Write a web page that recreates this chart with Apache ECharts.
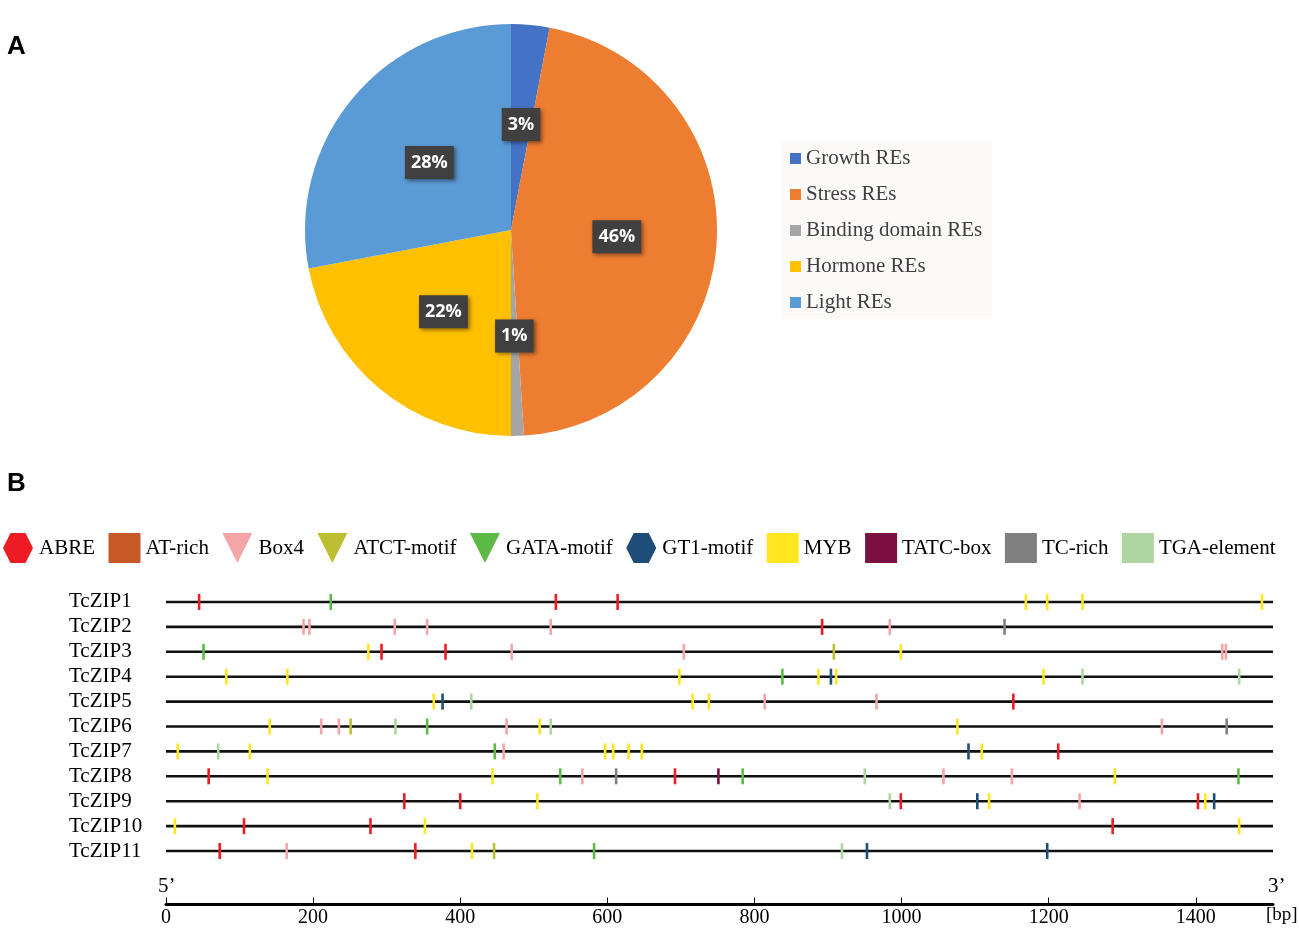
<!DOCTYPE html>
<html>
<head>
<meta charset="utf-8">
<script src="https://cdn.jsdelivr.net/npm/echarts@6/dist/echarts.min.js"></script>
<style>
    html, body { margin: 0; background: #fff; }
    #main { width: 1299px; height: 928px; }
</style>
</head>
<body>
<div id="main"></div>
<script>
// panel A: share of responsive elements
const reNames  = ['Growth REs', 'Stress REs', 'Binding domain REs', 'Hormone REs', 'Light REs'];
const reValues = [3, 46, 1, 22, 28];
const reColors = ['#4472C4', '#ED7D31', '#A5A5A5', '#FFC000', '#5B9BD5'];

// panel B: motif positions (bp) on each promoter
const genes = ['TcZIP1', 'TcZIP2', 'TcZIP3', 'TcZIP4', 'TcZIP5', 'TcZIP6',
               'TcZIP7', 'TcZIP8', 'TcZIP9', 'TcZIP10', 'TcZIP11'];
const seqLength = 1505;
const bpTicks = [0, 200, 400, 600, 800, 1000, 1200, 1400];

const motifNames  = ['ABRE', 'AT-rich', 'Box4', 'ATCT-motif', 'GATA-motif',
                     'GT1-motif', 'MYB', 'TATC-box', 'TC-rich', 'TGA-element'];
const motifColors = ['#ED1C24', '#C55A28', '#F4A5A8', '#BDBE32', '#5EBA47',
                     '#1E4D78', '#FFE61E', '#7B1142', '#808080', '#AED6A0'];

const abre = [
    ['TcZIP1', 45], ['TcZIP1', 530], ['TcZIP1', 614], ['TcZIP2', 892],
    ['TcZIP3', 293], ['TcZIP3', 380], ['TcZIP5', 1152], ['TcZIP7', 1213],
    ['TcZIP8', 58], ['TcZIP8', 692], ['TcZIP9', 324], ['TcZIP9', 400],
    ['TcZIP9', 999], ['TcZIP9', 1403], ['TcZIP10', 106], ['TcZIP10', 278],
    ['TcZIP10', 1287], ['TcZIP11', 73], ['TcZIP11', 339]
];
const atRich = [];
const box4 = [
    ['TcZIP2', 187], ['TcZIP2', 195], ['TcZIP2', 311], ['TcZIP2', 355],
    ['TcZIP2', 523], ['TcZIP2', 984], ['TcZIP3', 470], ['TcZIP3', 704],
    ['TcZIP3', 1436], ['TcZIP3', 1441], ['TcZIP5', 814], ['TcZIP5', 966],
    ['TcZIP6', 211], ['TcZIP6', 235], ['TcZIP6', 463], ['TcZIP6', 1354],
    ['TcZIP7', 459], ['TcZIP8', 566], ['TcZIP8', 1057], ['TcZIP8', 1150],
    ['TcZIP9', 1242], ['TcZIP11', 164]
];
const atct = [['TcZIP3', 908], ['TcZIP6', 251], ['TcZIP11', 446]];
const gata = [
    ['TcZIP1', 224], ['TcZIP3', 51], ['TcZIP4', 838], ['TcZIP6', 355],
    ['TcZIP7', 447], ['TcZIP8', 536], ['TcZIP8', 784], ['TcZIP8', 1458],
    ['TcZIP11', 582]
];
const gt1 = [
    ['TcZIP4', 904], ['TcZIP5', 376], ['TcZIP7', 1091], ['TcZIP9', 1103],
    ['TcZIP9', 1425], ['TcZIP11', 953], ['TcZIP11', 1198]
];
const myb = [
    ['TcZIP1', 1169], ['TcZIP1', 1198], ['TcZIP1', 1246], ['TcZIP1', 1490],
    ['TcZIP3', 275], ['TcZIP3', 999],
    ['TcZIP4', 82], ['TcZIP4', 165], ['TcZIP4', 698], ['TcZIP4', 887],
    ['TcZIP4', 911], ['TcZIP4', 1193],
    ['TcZIP5', 364], ['TcZIP5', 716], ['TcZIP5', 738],
    ['TcZIP6', 141], ['TcZIP6', 508], ['TcZIP6', 1076],
    ['TcZIP7', 16], ['TcZIP7', 114], ['TcZIP7', 597], ['TcZIP7', 608],
    ['TcZIP7', 629], ['TcZIP7', 647], ['TcZIP7', 1109],
    ['TcZIP8', 138], ['TcZIP8', 444], ['TcZIP8', 1290],
    ['TcZIP9', 505], ['TcZIP9', 1119], ['TcZIP9', 1413],
    ['TcZIP10', 12], ['TcZIP10', 352], ['TcZIP10', 1459],
    ['TcZIP11', 416]
];
const tatc = [['TcZIP8', 751]];
const tcRich = [['TcZIP2', 1140], ['TcZIP6', 1442], ['TcZIP8', 612]];
const tga = [
    ['TcZIP4', 1246], ['TcZIP4', 1459], ['TcZIP5', 415], ['TcZIP6', 312],
    ['TcZIP6', 523], ['TcZIP7', 71], ['TcZIP8', 950], ['TcZIP9', 984],
    ['TcZIP11', 919]
];
const motifSites = [abre, atRich, box4, atct, gata, gt1, myb, tatc, tcRich, tga];

const hexagon  = 'path://M0,50 L25,0 L75,0 L100,50 L75,100 L25,100 Z';
const triangle = 'path://M0,0 L100,0 L50,100 Z';
const motifIcons = [hexagon, 'rect', triangle, triangle, triangle,
                    hexagon, 'rect', 'rect', 'rect', 'rect'];

const serif = '"Liberation Serif", "Times New Roman", serif';

const chart = echarts.init(document.getElementById('main'));

const renderBackbone = function(params, api) {
    let a = api.coord([0, api.value(1)]);
    let b = api.coord([api.value(0), api.value(1)]);
    return {
        type: 'line',
        shape: { x1: a[0], y1: a[1], x2: b[0], y2: b[1] },
        style: { stroke: '#111', lineWidth: 2.6 }
    };
};

const renderSite = function(params, api) {
    let p = api.coord([api.value(0), api.value(1)]);
    return {
        type: 'rect',
        shape: { x: p[0] - 1.3, y: p[1] - 8, width: 2.6, height: 16 },
        style: { fill: api.visual('color') }
    };
};

let series = [];
series.push({
    type: 'pie',
    center: [511, 230],
    radius: 206,
    startAngle: 90,
    silent: true,
    data: reNames.map((n, i) => ({ name: n, value: reValues[i], itemStyle: { color: reColors[i] } })),
    label: {
        position: 'inside',
        formatter: (p) => p.value + '%',
        color: '#fff',
        fontSize: 18,
        fontWeight: 'bold',
        fontFamily: '"Open Sans", sans-serif',
        backgroundColor: '#404040',
        padding: [8, 6, 5, 6],
        lineHeight: 20,
        shadowColor: 'rgba(0,0,0,0.45)',
        shadowBlur: 4,
        shadowOffsetX: 2,
        shadowOffsetY: 2
    },
    labelLine: { show: false }
});

series.push({
    name: 'backbone',
    type: 'custom',
    renderItem: renderBackbone,
    silent: true,
    data: genes.map((g, i) => [seqLength, i]),
    z: 1
});

motifNames.forEach((name, k) => {
    series.push({
        name: name,
        type: 'custom',
        renderItem: renderSite,
        silent: true,
        itemStyle: { color: motifColors[k] },
        data: motifSites[k].map((s) => [s[1], genes.indexOf(s[0])]),
        z: 2
    });
});

chart.setOption({
    animation: false,
    grid: { left: 166, right: 26, top: 589.5, height: 274 },
    xAxis: {
        type: 'value',
        min: 0,
        max: seqLength,
        interval: 200,
        offset: 41,
        splitLine: { show: false },
        axisLine: { show: true, lineStyle: { color: '#000', width: 3 } },
        axisTick: { show: true, inside: true, length: 7, lineStyle: { color: '#000', width: 1 } },
        axisLabel: {
            color: '#000', fontSize: 20, fontFamily: serif, margin: 3,
            showMaxLabel: false,
            formatter: (v) => bpTicks.indexOf(v) >= 0 ? String(v) : ''
        }
    },
    yAxis: {
        type: 'category',
        inverse: true,
        data: genes,
        axisLine: { show: false },
        axisTick: { show: false },
        splitLine: { show: false },
        axisLabel: { interval: 0, color: '#000', fontSize: 21, fontFamily: serif, align: 'left', margin: 97 }
    },
    legend: [{
        data: reNames,
        orient: 'vertical',
        left: 781,
        top: 140,
        icon: 'rect',
        itemWidth: 11,
        itemHeight: 11,
        itemGap: 15,
        padding: [8, 10, 6, 9],
        backgroundColor: '#FCF9F9',
        selectedMode: false,
        textStyle: { color: '#404040', fontSize: 21, fontFamily: serif }
    }, {
        data: motifNames.map((n, i) => ({ name: n, icon: motifIcons[i] })),
        left: 3,
        top: 533,
        itemWidth: 32,
        itemHeight: 30,
        itemGap: 13.5,
        padding: 0,
        selectedMode: false,
        textStyle: { color: '#000', fontSize: 21, fontFamily: serif }
    }],
    graphic: [
        { type: 'text', left: 7, top: 34, style: { text: 'A', fontSize: 26, fontWeight: 'bold', fontFamily: '"Liberation Sans", Arial', fill: '#000' } },
        { type: 'text', left: 7, top: 471, style: { text: 'B', fontSize: 26, fontWeight: 'bold', fontFamily: '"Liberation Sans", Arial', fill: '#000' } },
        { type: 'text', left: 158, top: 876, style: { text: '5’', fontSize: 21, fontFamily: serif, fill: '#000' } },
        { type: 'text', left: 1268, top: 876, style: { text: '3’', fontSize: 21, fontFamily: serif, fill: '#000' } },
        { type: 'text', left: 1266, top: 906, style: { text: '[bp]', fontSize: 19, fontFamily: serif, fill: '#000' } }
    ],
    series: series
});
</script>
</body>
</html>
